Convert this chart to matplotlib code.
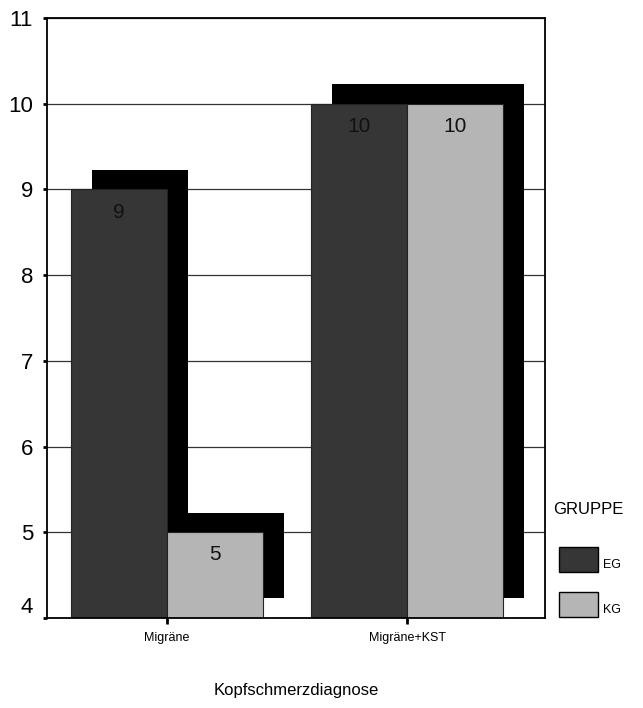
import matplotlib.pyplot as plt
from matplotlib.patches import Rectangle

plt.rcParams['font.family'] = ['Liberation Sans', 'DejaVu Sans']

# data
categories = ['Migräne', 'Migräne+KST']
groups = ['EG', 'KG']
values_eg = [9, 10]
values_kg = [5, 10]
colors = {'EG': '#363636', 'KG': '#b5b5b5'}

bar_w = 0.4
shadow_dx = 0.0875
shadow_dy = 0.23
ybase = 4

fig = plt.figure(figsize=(6.43, 7.08), dpi=100)
ax = fig.add_axes([47 / 643, 1 - 618 / 708, 498 / 643, 600 / 708])

x = list(range(len(categories)))
x_eg = [i - bar_w / 2 for i in x]
x_kg = [i + bar_w / 2 for i in x]

# drop shadows behind the bars
for xs, vals in [(x_eg, values_eg), (x_kg, values_kg)]:
    ax.bar([v + shadow_dx for v in xs], [v - ybase for v in vals], bar_w,
           bottom=ybase + shadow_dy, color='black', zorder=2)

ax.bar(x_eg, [v - ybase for v in values_eg], bar_w, bottom=ybase,
       color=colors['EG'], edgecolor='#222222', linewidth=0.8, zorder=3)
ax.bar(x_kg, [v - ybase for v in values_kg], bar_w, bottom=ybase,
       color=colors['KG'], edgecolor='#222222', linewidth=0.8, zorder=3)

for xs, vals in [(x_eg, values_eg), (x_kg, values_kg)]:
    for xi, v in zip(xs, vals):
        ax.annotate(str(v), (xi, v), xytext=(0, -9.5), textcoords='offset points',
                    ha='center', va='top', fontsize=15, color='#111111', zorder=4)

ax.set_xlim(-0.5, 1.575)
ax.set_ylim(4, 11)
ax.set_yticks(range(4, 12))
ax.set_xticks(x)
ax.set_xticklabels(categories, fontsize=9)
ax.tick_params(axis='y', labelsize=16, length=3, width=2, pad=7)
ax.tick_params(axis='x', length=4, width=2, pad=6)
ax.get_yticklabels()[0].set_va('bottom')
ax.yaxis.grid(True, color='#333333', linewidth=0.9)
ax.set_axisbelow(True)
for s in ax.spines.values():
    s.set_linewidth(1.3)
    s.set_zorder(5)

fig.text(296 / 643, 1 - 690 / 708, 'Kopfschmerzdiagnose', ha='center', va='center', fontsize=12)

# legend
fig.text(553 / 643, 1 - 510 / 708, 'GRUPPE', ha='left', va='center', fontsize=12)
for g, ytop in [('EG', 547), ('KG', 592)]:
    fig.patches.append(Rectangle((559 / 643, 1 - (ytop + 25) / 708), 39 / 643, 25 / 708,
                                 transform=fig.transFigure, facecolor=colors[g],
                                 edgecolor='black', linewidth=1))
    fig.text(603 / 643, 1 - (ytop + 18) / 708, g, ha='left', va='center', fontsize=9)

fig.savefig('out.png', dpi=100)
